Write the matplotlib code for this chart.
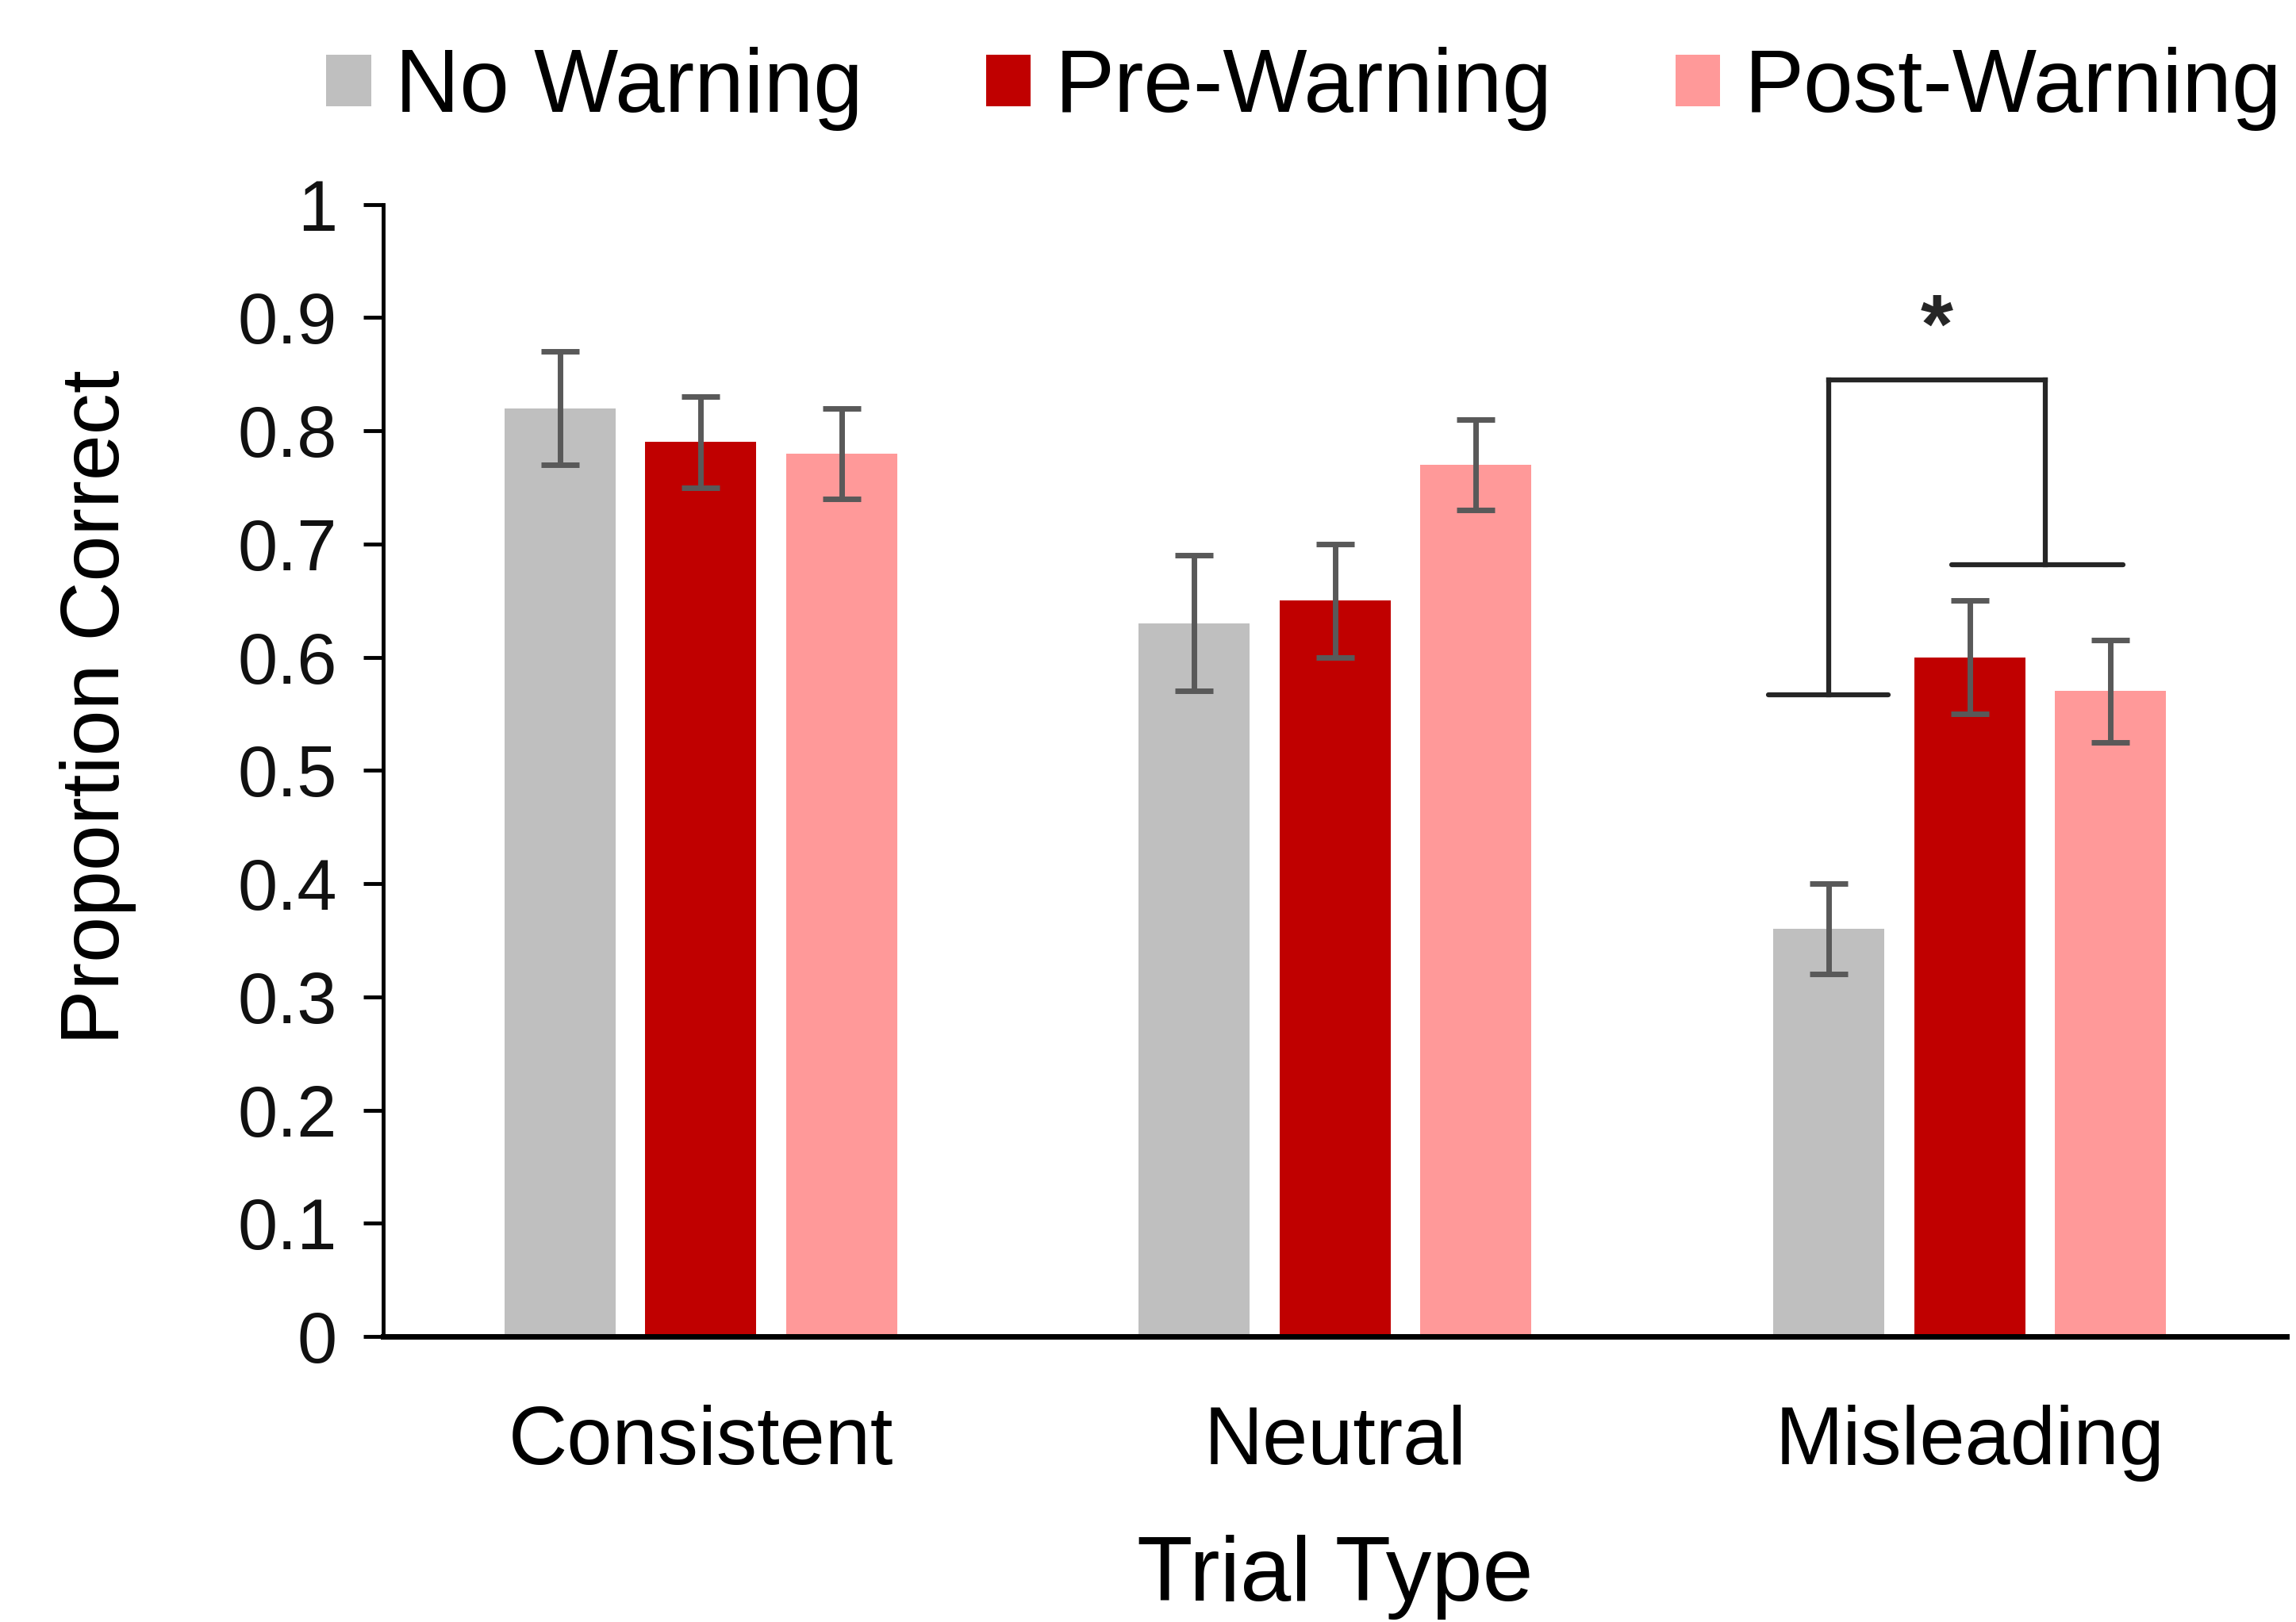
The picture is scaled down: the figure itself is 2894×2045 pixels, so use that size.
import matplotlib
matplotlib.use("Agg")
import matplotlib.pyplot as plt
import numpy as np

plt.rcParams['font.family'] = ['Liberation Sans', 'DejaVu Sans']

categories = ["Consistent", "Neutral", "Misleading"]
series = ["No Warning", "Pre-Warning", "Post-Warning"]
no_warning = [0.82, 0.63, 0.36]
pre_warning = [0.79, 0.65, 0.60]
post_warning = [0.78, 0.77, 0.57]
no_warning_err = [0.05, 0.06, 0.04]
pre_warning_err = [0.04, 0.05, 0.05]
post_warning_err = [0.04, 0.04, 0.045]
colors = ["#BFBFBF", "#C00000", "#FF9999"]
yticks = [0, 0.1, 0.2, 0.3, 0.4, 0.5, 0.6, 0.7, 0.8, 0.9, 1]
ytick_labels = ["0", "0.1", "0.2", "0.3", "0.4", "0.5", "0.6", "0.7", "0.8", "0.9", "1"]
# significance bracket levels (data units)
sig_low_left = 0.567
sig_low_right = 0.682
sig_top = 0.845
sig_star_y = 0.888

fig = plt.figure(figsize=(28.94, 20.45), dpi=100)
ax = fig.add_axes([0.167, 0.176, 0.829, 0.698])

x = np.arange(len(categories))
width = 0.175
offset = 0.222
vals = [no_warning, pre_warning, post_warning]
errs = [no_warning_err, pre_warning_err, post_warning_err]
for i, (v, e, c, lab) in enumerate(zip(vals, errs, colors, series)):
    ax.bar(x + (i - 1) * offset, v, width, color=c, label=lab, zorder=2)
    ax.errorbar(x + (i - 1) * offset, v, yerr=e, fmt='none', ecolor='#595959',
                elinewidth=5, capsize=17, capthick=5, zorder=3)

ax.set_xlim(-0.5, 2.5)
ax.set_ylim(0, 1)
ax.set_yticks(yticks)
ax.set_yticklabels(ytick_labels)
ax.set_xticks(x)
ax.set_xticklabels(categories, fontsize=74)
ax.tick_params(axis='x', length=0, pad=62)
ax.tick_params(axis='y', length=18, width=3.5, direction='out', labelsize=65, pad=24,
               labelcolor='#111111')
for s in ['top', 'right']:
    ax.spines[s].set_visible(False)
ax.spines['left'].set_linewidth(3.5)
ax.spines['bottom'].set_linewidth(5)

ax.set_xlabel("Trial Type", fontsize=83, labelpad=48)
ax.set_ylabel("Proportion Correct", fontsize=75, labelpad=92, y=0.556)

# significance bracket for Misleading
g = x[2] - offset
r = x[2]
p = x[2] + offset
lc = '#262626'
lw = 4.5
ax.plot([g - 0.095, g + 0.094], [sig_low_left] * 2, color=lc, lw=lw, solid_capstyle='round')
ax.plot([g, g], [sig_low_left, sig_top], color=lc, lw=lw)
mid = (r + p) / 2 + 0.008
ax.plot([g, mid], [sig_top] * 2, color=lc, lw=lw)
ax.plot([mid, mid], [sig_top, sig_low_right], color=lc, lw=lw)
ax.plot([r - 0.028, p + 0.02], [sig_low_right] * 2, color=lc, lw=lw, solid_capstyle='round')
ax.text((g + mid) / 2, sig_star_y, "*", ha='center', va='center', fontsize=76,
        fontweight='bold', color='#262626')

fig.legend(loc='center', bbox_to_anchor=(0.568, 0.945), ncol=3, frameon=False,
           fontsize=81, handlelength=0.5, handleheight=0.5, handletextpad=0.27,
           columnspacing=1.38)

fig.savefig("out.png", dpi=100)
